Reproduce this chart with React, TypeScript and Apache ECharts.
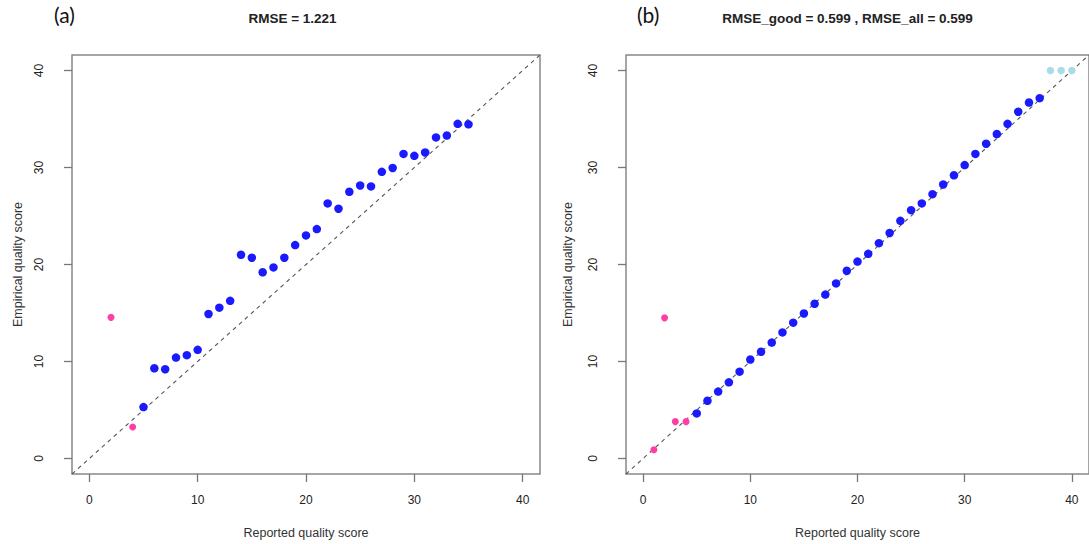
import React, { useEffect, useRef } from "react";
import * as echarts from "echarts";

// Panel (a)
const aPinkX = [2, 4];
const aPinkY = [14.55, 3.25];
const aBlueX = [5, 6, 7, 8, 9, 10, 11, 12, 13, 14, 15, 16, 17, 18, 19, 20, 21, 22, 23, 24, 25, 26, 27, 28, 29, 30, 31, 32, 33, 34, 35];
const aBlueY = [5.3, 9.3, 9.2, 10.4, 10.65, 11.2, 14.9, 15.55, 16.25, 21.0, 20.7, 19.2, 19.7, 20.7, 22.0, 23.0, 23.65, 26.3, 25.75, 27.5, 28.15, 28.05, 29.55, 29.95, 31.4, 31.2, 31.55, 33.1, 33.3, 34.5, 34.45];

// Panel (b)
const bPinkX = [1, 2, 3, 4];
const bPinkY = [0.9, 14.5, 3.8, 3.8];
const bBlueX = [5, 6, 7, 8, 9, 10, 11, 12, 13, 14, 15, 16, 17, 18, 19, 20, 21, 22, 23, 24, 25, 26, 27, 28, 29, 30, 31, 32, 33, 34, 35, 36, 37];
const bBlueY = [4.65, 5.95, 6.9, 7.85, 8.95, 10.2, 11.0, 11.95, 13.0, 14.0, 14.95, 15.95, 16.9, 18.05, 19.35, 20.3, 21.1, 22.2, 23.25, 24.5, 25.6, 26.3, 27.25, 28.25, 29.2, 30.25, 31.4, 32.45, 33.45, 34.5, 35.75, 36.7, 37.15];
const bLightX = [38, 39, 40];
const bLightY = [40, 40, 40];

const ticks = [0, 10, 20, 30, 40];
const axisMin = -1.6;
const axisMax = 41.6;
const titleA = "RMSE = 1.221";
const titleB = "RMSE_good = 0.599 , RMSE_all = 0.599";
const xName = "Reported quality score";
const yName = "Empirical quality score";

const zip = (xs: number[], ys: number[]) => xs.map((x, i) => [x, ys[i]]);

const FONT = "Liberation Sans, Arial, sans-serif";

export default function App() {
  const ref = useRef<HTMLDivElement>(null);
  useEffect(() => {
    if (!ref.current) return;
    const chart = echarts.init(ref.current, undefined, { renderer: "svg" });
    const mkX = (gi: number) => ({
      gridIndex: gi,
      type: "value",
      min: axisMin,
      max: axisMax,
      splitLine: { show: false },
      axisLine: { show: false, onZero: false },
      axisTick: { show: true, customValues: ticks, length: 8, lineStyle: { color: "#777", width: 1.3 } },
      axisLabel: { customValues: ticks, margin: 20, fontSize: 12, color: "#222", fontFamily: FONT },
      name: xName,
      nameLocation: "middle",
      nameGap: 52,
      nameTextStyle: { fontSize: 12.5, color: "#333", fontFamily: FONT },
    });
    const mkY = (gi: number, gap: number) => ({
      gridIndex: gi,
      type: "value",
      min: axisMin,
      max: axisMax,
      splitLine: { show: false },
      axisLine: { show: false, onZero: false },
      axisTick: { show: true, customValues: ticks, length: 8, lineStyle: { color: "#777", width: 1.3 } },
      axisLabel: { customValues: ticks, margin: 27, rotate: 90, fontSize: 12, color: "#222", fontFamily: FONT },
      name: yName,
      nameLocation: "middle",
      nameGap: gap,
      nameTextStyle: { fontSize: 12.5, color: "#333", fontFamily: FONT },
    });
    const diag = (gi: number) => ({
      type: "line",
      xAxisIndex: gi,
      yAxisIndex: gi,
      data: [[axisMin, axisMin], [axisMax, axisMax]],
      symbol: "none",
      lineStyle: { color: "#555", width: 1.1, type: [4, 4] },
      z: 1,
      silent: true,
    });
    const sc = (gi: number, data: number[][], color: string, size: number) => ({
      type: "scatter",
      xAxisIndex: gi,
      yAxisIndex: gi,
      data,
      symbolSize: size,
      itemStyle: { color, opacity: 1 },
      z: 3,
    });
    chart.setOption({
      animation: false,
      grid: [
        { left: 72, top: 55, width: 468, height: 420, show: true, borderColor: "#888", borderWidth: 1.5, backgroundColor: "transparent" },
        { left: 626, top: 55, width: 467, height: 420, show: true, borderColor: "#888", borderWidth: 1.5, backgroundColor: "transparent" },
      ],
      xAxis: [mkX(0), mkX(1)],
      yAxis: [mkY(0, 48), mkY(1, 52)],
      graphic: [
        { type: "text", left: 54, top: 4, style: { text: "(a)", fontSize: 21, fontFamily: "Lato, Open Sans, sans-serif", fill: "#111" } },
        { type: "text", left: 637, top: 4, style: { text: "(b)", fontSize: 21, fontFamily: "Lato, Open Sans, sans-serif", fill: "#111" } },
        { type: "text", x: 292.5, y: 18, style: { text: titleA, fontSize: 13.5, fontWeight: "bold", fontFamily: FONT, fill: "#222", align: "center", verticalAlign: "middle" } },
        { type: "text", x: 847.5, y: 18, style: { text: titleB, fontSize: 13.5, fontWeight: "bold", fontFamily: FONT, fill: "#222", align: "center", verticalAlign: "middle" } },
      ],
      series: [
        diag(0),
        sc(0, zip(aPinkX, aPinkY), "#ff3fa6", 7),
        sc(0, zip(aBlueX, aBlueY), "#1a1aff", 8.5),
        diag(1),
        sc(1, zip(bPinkX, bPinkY), "#ff3fa6", 7),
        sc(1, zip(bBlueX, bBlueY), "#1a1aff", 8.5),
        sc(1, zip(bLightX, bLightY), "#aadbe8", 7.5),
      ],
    });
    return () => chart.dispose();
  }, []);
  return <div ref={ref} style={{ position: "absolute", left: 0, top: 0, width: 1089, height: 544, background: "#fff" }} />;
}
